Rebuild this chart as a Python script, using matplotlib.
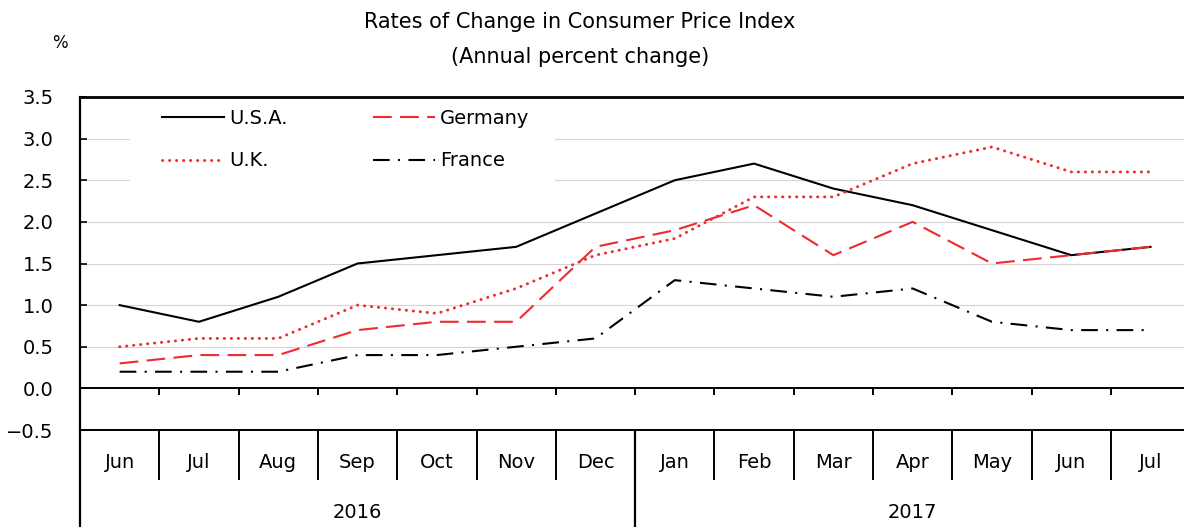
import matplotlib
matplotlib.use("Agg")
import matplotlib.pyplot as plt
from matplotlib.patches import Rectangle

months = ["Jun", "Jul", "Aug", "Sep", "Oct", "Nov", "Dec",
          "Jan", "Feb", "Mar", "Apr", "May", "Jun", "Jul"]
years = ["2016", "2017"]
year_spans = [(0, 6), (7, 13)]

usa = [1.0, 0.8, 1.1, 1.5, 1.6, 1.7, 2.1, 2.5, 2.7, 2.4, 2.2, 1.9, 1.6, 1.7]
germany = [0.3, 0.4, 0.4, 0.7, 0.8, 0.8, 1.7, 1.9, 2.2, 1.6, 2.0, 1.5, 1.6, 1.7]
uk = [0.5, 0.6, 0.6, 1.0, 0.9, 1.2, 1.6, 1.8, 2.3, 2.3, 2.7, 2.9, 2.6, 2.6]
france = [0.2, 0.2, 0.2, 0.4, 0.4, 0.5, 0.6, 1.3, 1.2, 1.1, 1.2, 0.8, 0.7, 0.7]

yticks = [-0.5, 0.0, 0.5, 1.0, 1.5, 2.0, 2.5, 3.0, 3.5]

plt.rcParams["font.family"] = ["DejaVu Sans"]
red = "#ee2a2f"

fig = plt.figure(figsize=(11.84, 5.27), dpi=100)
ax = fig.add_axes([80 / 1184, (527 - 430) / 527, 1104 / 1184, 333 / 527])

x = list(range(len(months)))
ax.plot(x, usa, color="black", lw=1.5, label="U.S.A.", zorder=3)
ax.plot(x, germany, color=red, lw=1.5, dashes=(9, 4), label="Germany", zorder=3)
ax.plot(x, uk, color=red, lw=2.1, linestyle=(0, (0.1, 2.3)),
        dash_capstyle="round", label="U.K.", zorder=3)
ax.plot(x, france, color="black", lw=1.5, dashes=(8, 4, 1, 4), label="France", zorder=3)

ax.set_xlim(-0.5, -0.5 + 1104 / 79.3)
ax.set_ylim(-0.5, 3.5)
ax.set_yticks(yticks)
ax.set_yticklabels([f"{v:.1f}".replace("-", "\u2212") for v in yticks])
ax.tick_params(axis="y", direction="in", length=5, width=1.2, pad=19, labelsize=14)
ax.set_xticks([])

for v in yticks[2:-1]:
    ax.axhline(v, color="#d4d4d4", lw=0.8, zorder=1)
ax.axhline(0, color="black", lw=1.4, zorder=2)

ax.spines["right"].set_visible(False)
ax.spines["top"].set_linewidth(2)
ax.spines["bottom"].set_linewidth(1.4)
ax.spines["left"].set_linewidth(1.6)

# small ticks on the zero line and the month separators below the axis
bounds = [i + 0.5 for i in range(len(months) - 1)]
ax.vlines(bounds, 0, -0.085, color="black", lw=1.4, zorder=2)
ax.vlines(bounds, -0.5, -1.10, color="black", lw=1.4, clip_on=False)
ax.vlines([-0.5, 6.5], -0.5, -1.67, color="black", lw=1.6, clip_on=False)

for i, m in enumerate(months):
    ax.text(i, -0.885, m, ha="center", va="center", fontsize=14, clip_on=False)
for (a, b), yr in zip(year_spans, years):
    ax.text((a + b) / 2, -1.485, yr, ha="center", va="center", fontsize=14, clip_on=False)

# white backing behind the legend hides the gridlines
ax.add_patch(Rectangle((50 / 1104, (430 - 186) / 333), 425 / 1104, 1 - (430 - 186) / 333,
                       transform=ax.transAxes, facecolor="white", edgecolor="none",
                       zorder=1.5))

h, l = ax.get_legend_handles_labels()
order = [0, 2, 1, 3]
leg = ax.legend([h[i] for i in order], [l[i] for i in order], ncol=2,
                loc="upper left", bbox_to_anchor=(82 / 1104, (430 - 109) / 333),
                fontsize=14, handlelength=3.2, handletextpad=0.25, columnspacing=4.4,
                labelspacing=1.2, borderpad=0, borderaxespad=0, frameon=False)
leg.set_zorder(2.5)

fig.text(580 / 1184, 1 - 22 / 527, "Rates of Change in Consumer Price Index",
         ha="center", va="center", fontsize=15)
fig.text(580 / 1184, 1 - 57 / 527, "(Annual percent change)",
         ha="center", va="center", fontsize=15)
fig.text(60 / 1184, 1 - 43 / 527, "%", ha="center", va="center", fontsize=12)

fig.savefig("out.png", dpi=100)
